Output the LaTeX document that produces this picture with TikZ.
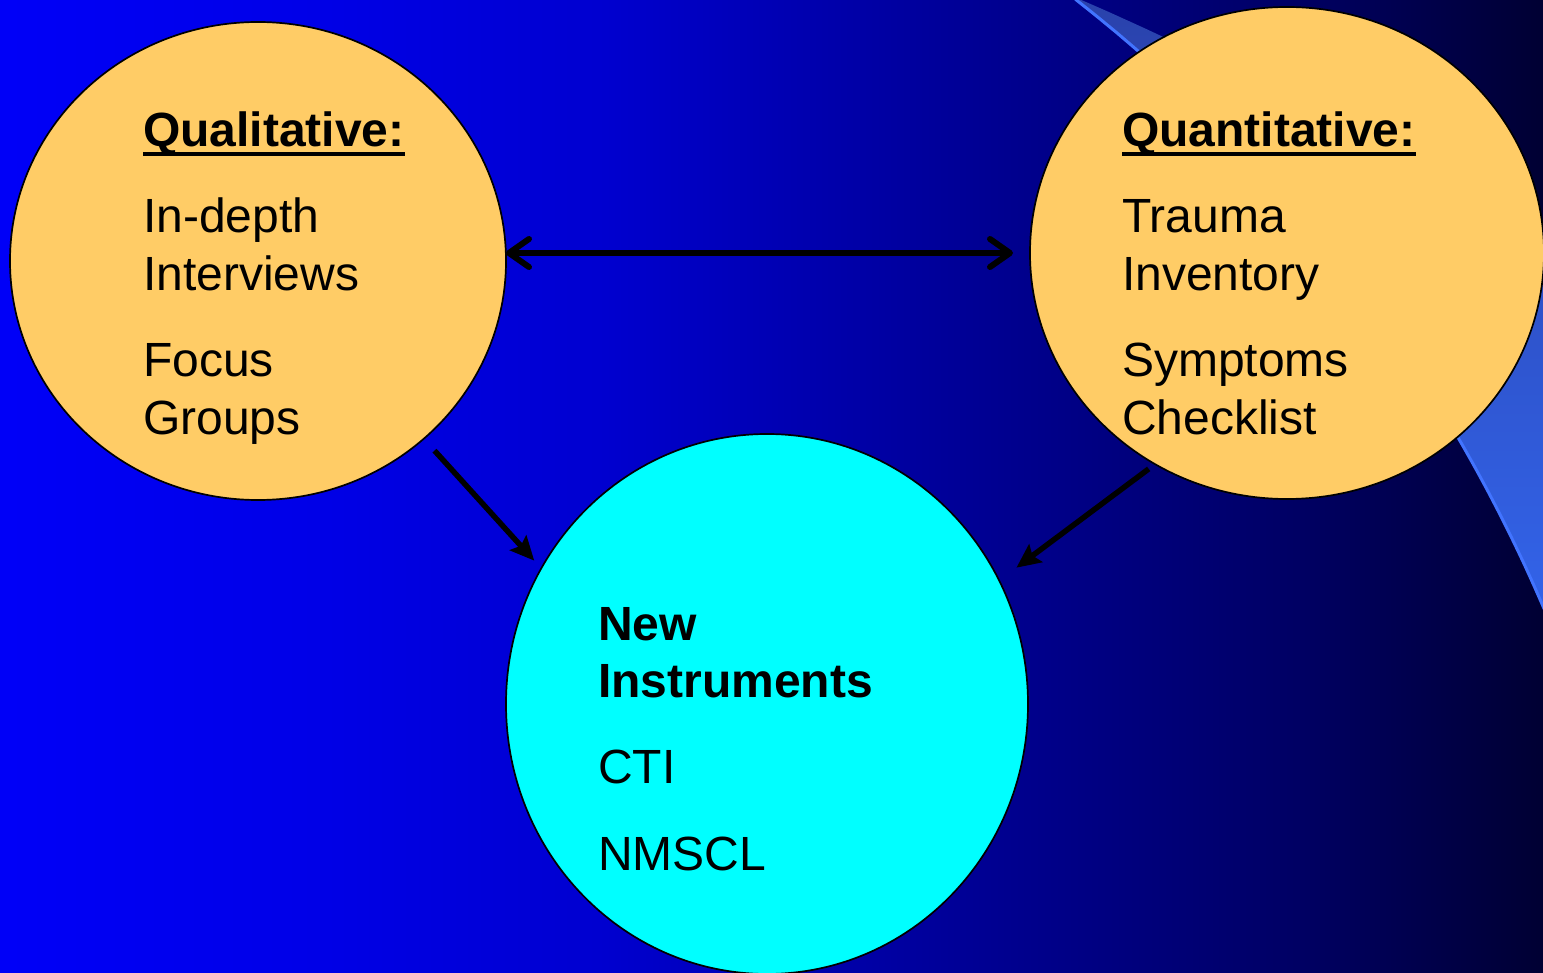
\documentclass[tikz,border=0pt]{standalone}
\usepackage{fontspec}
\setmainfont{Liberation Sans}
\usetikzlibrary{shapes.geometric,arrows.meta}

\definecolor{bandfaint}{RGB}{42,66,172}
\definecolor{bandsolid}{RGB}{51,102,238}
\definecolor{bandedge}{RGB}{66,116,255}
\definecolor{peach}{RGB}{255,204,102}
\definecolor{aqua}{RGB}{0,255,255}

% backdrop: bright blue on the left fading to deep navy on the right
\pgfdeclarehorizontalshading{bgshade}{100bp}{%
  rgb(0bp)=(0,0,0.97); rgb(25bp)=(0,0,0.97); rgb(34.72bp)=(0,0,0.91);
  rgb(44.44bp)=(0,0,0.815); rgb(57.4bp)=(0,0,0.565); rgb(67.12bp)=(0,0,0.39);
  rgb(75bp)=(0,0,0.2); rgb(100bp)=(0,0,0.2)}

% underlined heading with a heavy rule below the baseline
\newcommand\headbar[1]{\setbox0\hbox{#1}\rlap{\rule[-9.5pt]{\wd0}{4.5pt}}\box0}

\tikzset{
  blob/.style={ellipse, draw=black, line width=1.7pt, inner sep=0pt, outer sep=0pt},
  txt/.style={anchor=base west, inner sep=0pt, font=\fontsize{48}{56}\selectfont},
  ttl/.style={anchor=base west, inner sep=0pt, font=\fontsize{48}{56}\selectfont\bfseries},
  dblarrow/.style={line width=6pt, {Straight Barb[length=20pt,width=28pt,round]}-{Straight Barb[length=20pt,width=28pt,round]}},
  diagarrow/.style={line width=5.5pt, -{Stealth[length=24pt,width=22pt,inset=4pt]}}
}

\begin{document}
\begin{tikzpicture}[x=1pt,y=-1pt]
\useasboundingbox (0,0) rectangle (1543,973);

\shade[shading=bgshade] (0,0) rectangle (1543,973);

% sweeping light band on the right
\begin{scope}
  \clip (0,0) rectangle (1543,973);
  \shade[top color=bandfaint, middle color=bandsolid, bottom color=bandsolid]
    plot[domain=52:21, samples=80, variable=\t] ({126+1542*cos(\t)},{1214.3-1542*sin(\t)})
    -- plot[domain=43:66.6, samples=80, variable=\t] ({2724*cos(\t)},{2500-2724*sin(\t)})
    -- cycle;
  \draw[bandedge, line width=3pt]
    plot[domain=52:21, samples=80, variable=\t] ({126+1542*cos(\t)},{1214.3-1542*sin(\t)});
\end{scope}

% circles
\node[blob, fill=peach, minimum width=496pt, minimum height=478pt] (qual) at (258,261) {};
\node[blob, fill=peach, minimum width=514pt, minimum height=492pt] (quant) at (1287,253) {};
\node[blob, fill=aqua, minimum width=522pt, minimum height=540pt] (newi) at (767,704) {};

% texts
\node[ttl] (qt) at (143,147) {\headbar{Qualitative:}};
\node[txt] (q1) at (143,233) {In-depth};
\node[txt] (q2) at (143,291) {Interviews};
\node[txt] (q3) at (143,377) {Focus};
\node[txt] (q4) at (143,435) {Groups};

\node[ttl] (nt) at (1122,147) {\headbar{Quantitative:}};
\node[txt] (n1) at (1122,233) {Trauma};
\node[txt] (n2) at (1122,291) {Inventory};
\node[txt] (n3) at (1122,377) {Symptoms};
\node[txt] (n4) at (1122,435) {Checklist};

\node[ttl] (i1) at (598,640) {New};
\node[ttl] (i2) at (598,697) {Instruments};
\node[txt] (i3) at (598,783) {CTI};
\node[txt] (i4) at (598,870) {NMSCL};

% connectors
\draw[dblarrow, shorten >=17pt] (qual.east |- quant.west) -- (quant.west);
\draw[diagarrow, shorten <=16pt, shorten >=10.5pt] (qual.-47.5) -- (newi.149.6);
\draw[diagarrow, shorten <=8pt, shorten >=21.6pt] (quant.-122.9) -- (newi.28.6);
\end{tikzpicture}
\end{document}
